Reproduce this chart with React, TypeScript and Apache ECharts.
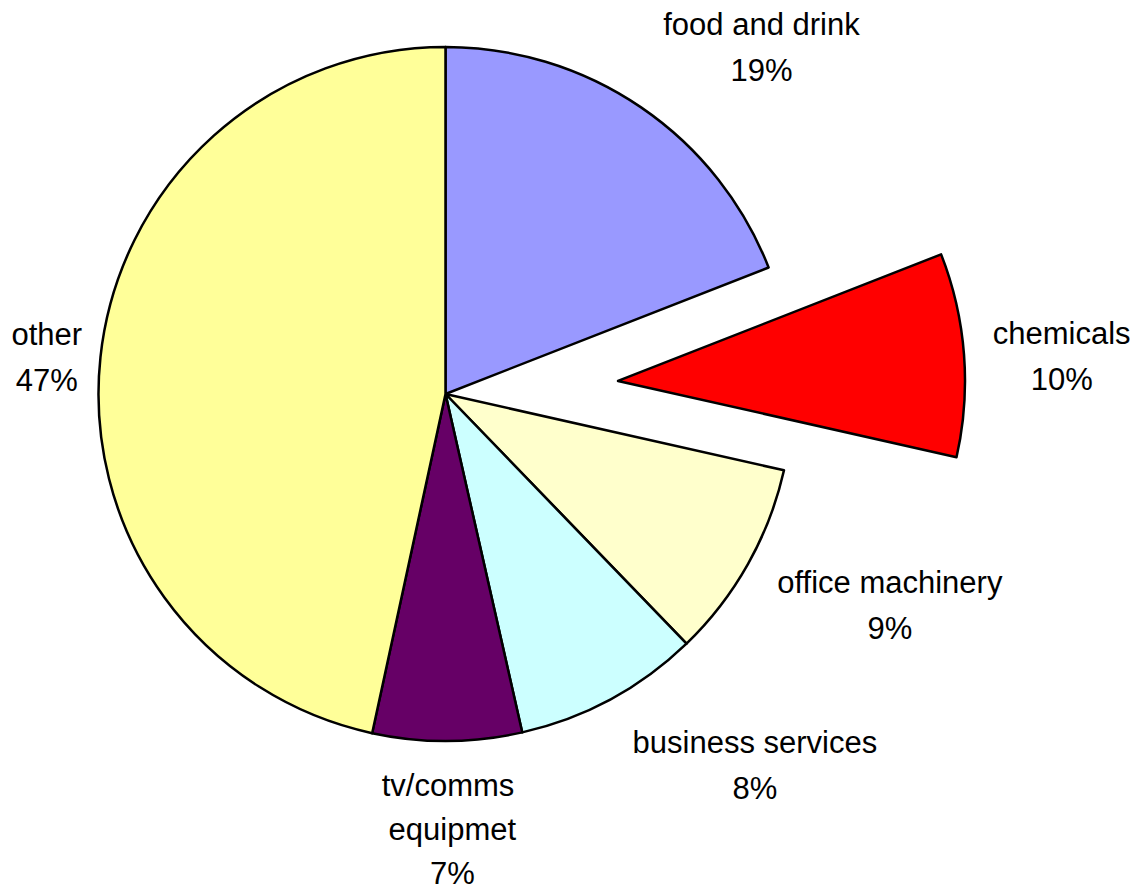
import React, { useEffect, useRef } from "react";
import * as echarts from "echarts";

const categories = [
  "food and drink",
  "chemicals",
  "office machinery",
  "business services",
  "tv/comms equipmet",
  "other",
];
const values = [19.06, 9.47, 9.25, 8.67, 6.94, 46.61];
const percentLabels = [19, 10, 9, 8, 7, 47];
const colors = ["#9999FF", "#FF0000", "#FFFFCC", "#CCFFFF", "#660066", "#FFFF99"];
const exploded = ["chemicals"];

const CX = 445.5;
const CY = 394;
const R = 347;
const EXPLODE = 173;
const GAP = 20;
const FONT = "'Liberation Sans', Arial, sans-serif";

export default function App() {
  const ref = useRef<HTMLDivElement>(null);
  useEffect(() => {
    document.body.style.margin = "0";
    const chart = echarts.init(ref.current!, null, { renderer: "svg" });
    const total = values.reduce((a, b) => a + b, 0);
    const mids: number[] = [];
    let acc = 0;
    values.forEach((v) => {
      const a0 = (acc / total) * 2 * Math.PI;
      acc += v;
      const a1 = (acc / total) * 2 * Math.PI;
      mids.push((a0 + a1) / 2);
    });
    const exIdx = categories.indexOf(exploded[0]);
    const ex = [
      CX + Math.sin(mids[exIdx]) * EXPLODE,
      CY - Math.cos(mids[exIdx]) * EXPLODE,
    ];

    const clamp = (v: number) => Math.max(-1, Math.min(1, v));
    const makeLayout = (cx: number, cy: number) => (params: any) => {
      const a = mids[params.dataIndex];
      const dx = Math.sin(a);
      const dy = -Math.cos(a);
      const ax = cx + dx * (R + GAP);
      const ay = cy + dy * (R + GAP);
      const w = params.labelRect.width * 1.07;
      const h = params.labelRect.height;
      const sx = clamp(2.2 * dx);
      const sy = Math.sign(dy) * Math.max(0, Math.min(1, (Math.abs(dy) - 0.1) * 1.6));
      return {
        x: ax + (sx * w) / 2 + 4,
        y: ay + (sy * h) / 2 + 3,
        align: "center",
        verticalAlign: "middle",
      };
    };

    const labelStyle = {
      show: true,
      position: "outside",
      formatter: (p: any) => `${p.name}\n${percentLabels[p.dataIndex]}%`,
      fontFamily: FONT,
      fontSize: 31,
      lineHeight: 46,
      color: "#000",
      align: "center",
    };
    const hidden = {
      itemStyle: { color: "rgba(0,0,0,0)", borderWidth: 0 },
      label: { show: false },
    };
    const base = {
      type: "pie",
      radius: R,
      startAngle: 90,
      clockwise: true,
      avoidLabelOverlap: false,
      emphasis: { disabled: true },
      label: labelStyle,
      labelLine: { show: false },
      itemStyle: { borderColor: "#000", borderWidth: 2.5 },
    };

    chart.setOption({
      animation: false,
      series: [
        {
          ...base,
          name: "main",
          center: [CX, CY],
          labelLayout: makeLayout(CX, CY),
          data: categories.map((name, i) =>
            exploded.includes(name)
              ? { name, value: values[i], ...hidden }
              : {
                  name,
                  value: values[i],
                  itemStyle: { color: colors[i] },
                  ...(name === "tv/comms equipmet"
                    ? { label: { width: 160, overflow: "break", lineHeight: 44 } }
                    : {}),
                }
          ),
        },
        {
          ...base,
          name: "exploded",
          center: ex,
          labelLayout: makeLayout(ex[0], ex[1]),
          data: categories.map((name, i) =>
            exploded.includes(name)
              ? { name, value: values[i], itemStyle: { color: colors[i] } }
              : { name, value: values[i], ...hidden }
          ),
        },
      ],
    });
    return () => chart.dispose();
  }, []);
  return <div ref={ref} style={{ width: 1134, height: 893 }} />;
}
